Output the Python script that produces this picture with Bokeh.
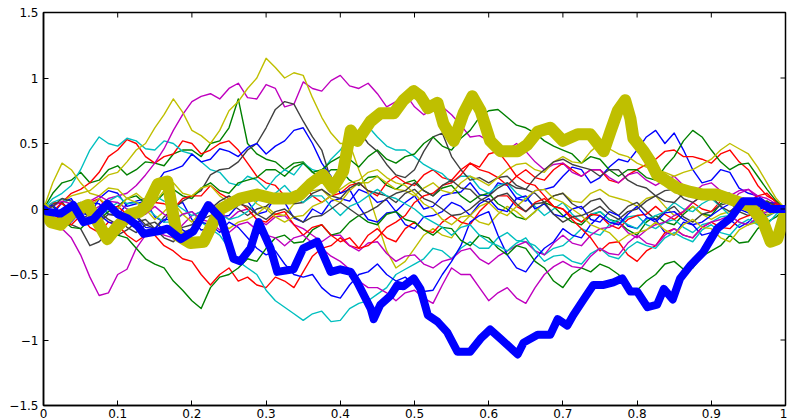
import math
from bokeh.plotting import figure
from bokeh.models import Range1d, FixedTicker
from bokeh.embed import file_html
from bokeh.resources import INLINE

# ---------------- data ----------------
# values at x = 0, 0.025, ..., 1  and at the midpoints x = 0.0125, 0.0375, ...
x_fine = [i / 80 for i in range(81)]

blue_1 = [0, 0.05, -0.03, 0.08, 0.12, 0.04, -0.06, 0.02, -0.08, -0.15,
          -0.05, 0.06, -0.02, 0.05, -0.1, -0.04, 0.08, 0.15, 0.05, -0.02,
          0.1, 0.02, 0.12, 0.2, 0.1, 0.18, 0.06, 0.15, 0.25, 0.3,
          0.24, 0.38, 0.45, 0.6, 0.58, 0.3, 0.22, 0.28, 0.12, 0.05, 0]
blue_1_mid = [-0.04, 0.08, -0.05, 0.14, 0.02, 0.06, -0.1, 0.05, -0.16, -0.06,
              0.03, -0.04, 0.09, -0.07, 0.0, 0.06, 0.06, 0.12, 0.07, 0.05,
              0.0, 0.1, 0.13, 0.11, 0.2, 0.08, 0.14, 0.17, 0.32, 0.2,
              0.32, 0.36, 0.55, 0.5, 0.45, 0.2, 0.3, 0.16, 0.1, -0.03]
blue_2 = [0, -0.08, -0.02, 0.04, -0.05, 0.06, 0.18, 0.3, 0.42, 0.38,
          0.44, 0.47, 0.42, 0.52, 0.62, 0.35, 0.12, 0.02, -0.1, -0.02,
          -0.15, -0.05, 0.05, -0.05, 0.08, -0.02, 0.1, 0.04, -0.06, 0.02,
          -0.1, -0.05, -0.15, -0.08, -0.2, -0.12, -0.18, -0.08, -0.1, 0.04, 0]
blue_2_mid = [-0.02, -0.1, 0.05, -0.04, 0.04, 0.08, 0.28, 0.33, 0.36, 0.46,
              0.4, 0.5, 0.48, 0.6, 0.5, 0.25, 0.15, -0.08, -0.03, -0.12,
              -0.06, -0.02, 0.02, 0.04, 0.0, 0.08, 0.0, -0.04, 0.0, -0.08,
              -0.02, -0.13, -0.07, -0.18, -0.1, -0.2, -0.1, -0.14, -0.02, 0.05]
blue_3 = [0, -0.05, 0.04, -0.04, -0.12, -0.06, -0.15, -0.08, -0.2, -0.12,
          -0.1, -0.22, -0.35, -0.42, -0.52, -0.6, -0.68, -0.5, -0.42, -0.55,
          -0.58, -0.62, -0.4, -0.1, -0.02, -0.35, -0.48, -0.3, -0.15, -0.22,
          -0.05, -0.12, 0.02, -0.1, -0.02, -0.12, -0.05, 0.04, -0.03, 0.05, 0]
blue_3_mid = [0.03, 0.02, -0.02, -0.1, -0.05, -0.14, -0.08, -0.16, -0.1, -0.18,
              -0.14, -0.3, -0.32, -0.5, -0.5, -0.66, -0.58, -0.48, -0.5, -0.52,
              -0.63, -0.5, -0.28, -0.05, -0.2, -0.45, -0.38, -0.25, -0.2, -0.12,
              -0.1, -0.04, -0.06, -0.03, -0.08, -0.1, 0.0, 0.0, 0.02, 0.04]
green_1 = [0, 0.2, 0.28, 0.22, 0.33, 0.3, 0.35, 0.42, 0.45, 0.5,
           0.62, 0.5, 0.38, 0.3, 0.36, 0.24, 0.3, 0.18, 0.25, 0.15,
           0.22, 0.1, 0.18, 0.05, 0.12, 0.0, -0.08, 0.05, -0.05, -0.12,
           -0.02, -0.1, -0.2, -0.05, -0.12, 0.02, -0.05, 0.08, 0.0, 0.06, 0]
green_1_mid = [0.12, 0.22, 0.2, 0.3, 0.26, 0.36, 0.33, 0.45, 0.4, 0.52,
               0.84, 0.42, 0.36, 0.35, 0.28, 0.3, 0.22, 0.24, 0.18, 0.2,
               0.14, 0.16, 0.1, 0.1, 0.04, -0.06, -0.02, 0.02, -0.1, -0.05,
               -0.08, -0.16, -0.1, -0.1, -0.04, -0.04, 0.04, 0.02, 0.04, 0.02]
green_2 = [0, -0.06, 0.03, -0.08, 0.02, 0.1, 0.05, 0.15, 0.08, 0.2,
           0.12, 0.22, 0.3, 0.25, 0.35, 0.3, 0.4, 0.32, 0.45, 0.35,
           0.42, 0.55, 0.45, 0.6, 0.75, 0.7, 0.62, 0.52, 0.45, 0.35,
           0.38, 0.25, 0.3, 0.22, 0.4, 0.6, 0.45, 0.3, 0.35, 0.15, 0]
green_2_mid = [0.02, 0.0, -0.04, -0.02, 0.08, 0.04, 0.12, 0.1, 0.16, 0.14,
               0.2, 0.24, 0.3, 0.32, 0.28, 0.36, 0.38, 0.4, 0.38, 0.4,
               0.5, 0.48, 0.54, 0.7, 0.76, 0.64, 0.58, 0.48, 0.42, 0.4,
               0.3, 0.3, 0.24, 0.32, 0.52, 0.55, 0.36, 0.34, 0.25, 0.06]
green_3 = [0, -0.08, -0.15, -0.1, -0.2, -0.3, -0.42, -0.55, -0.7, -0.6,
           -0.5, -0.38, -0.3, -0.2, -0.25, -0.12, -0.18, -0.05, -0.12, -0.02,
           -0.1, -0.2, -0.15, -0.28, -0.22, -0.35, -0.3, -0.45, -0.6, -0.45,
           -0.42, -0.5, -0.62, -0.5, -0.4, -0.45, -0.32, -0.2, -0.25, -0.1, 0]
green_3_mid = [-0.02, -0.14, -0.08, -0.18, -0.22, -0.38, -0.45, -0.62, -0.76, -0.52,
               -0.45, -0.4, -0.22, -0.26, -0.16, -0.2, -0.1, -0.1, -0.04, -0.08,
               -0.16, -0.14, -0.24, -0.2, -0.3, -0.28, -0.4, -0.55, -0.5, -0.48,
               -0.45, -0.6, -0.55, -0.42, -0.46, -0.36, -0.28, -0.26, -0.15, -0.06]
red_1 = [0, 0.05, 0.15, 0.28, 0.45, 0.5, 0.35, 0.42, 0.5, 0.45,
         0.52, 0.35, 0.2, 0.1, 0.18, 0.05, 0.12, 0.2, 0.1, 0.25,
         0.18, 0.3, 0.22, 0.35, 0.28, 0.18, 0.3, 0.22, 0.35, 0.25,
         0.3, 0.2, 0.3, 0.38, 0.45, 0.4, 0.35, 0.45, 0.3, 0.1, 0]
red_1_mid = [-0.02, 0.12, 0.2, 0.4, 0.53, 0.4, 0.4, 0.52, 0.42, 0.5,
             0.45, 0.25, 0.18, 0.12, 0.1, 0.1, 0.18, 0.14, 0.2, 0.2,
             0.26, 0.24, 0.3, 0.3, 0.24, 0.25, 0.24, 0.3, 0.3, 0.3,
             0.22, 0.26, 0.34, 0.44, 0.4, 0.38, 0.42, 0.36, 0.18, 0.06]
red_2 = [0, -0.1, -0.05, -0.18, -0.12, -0.25, -0.2, -0.32, -0.4, -0.58,
         -0.45, -0.52, -0.6, -0.55, -0.48, -0.3, -0.22, -0.3, -0.15, -0.25,
         -0.1, -0.18, -0.05, -0.12, 0.05, 0.1, -0.02, 0.08, 0.0, -0.1,
         -0.05, -0.15, -0.05, 0.02, -0.08, 0.05, -0.02, 0.1, 0.05, 0.12, 0]
red_2_mid = [-0.03, -0.12, -0.14, -0.1, -0.2, -0.2, -0.28, -0.38, -0.5, -0.5,
             -0.55, -0.58, -0.52, -0.6, -0.36, -0.28, -0.28, -0.2, -0.22, -0.15,
             -0.16, -0.1, -0.1, -0.02, 0.1, 0.02, 0.05, 0.02, -0.06, -0.04,
             -0.12, -0.08, -0.04, -0.04, -0.02, 0.0, 0.06, 0.04, 0.1, 0.05]
red_3 = [0, 0.04, -0.04, 0.08, 0.02, -0.06, 0.05, 0.0, 0.1, 0.18,
         0.08, 0.0, -0.1, -0.02, -0.2, -0.12, -0.25, -0.3, -0.22, -0.1,
         0.05, 0.12, 0.2, 0.35, 0.42, 0.35, 0.2, 0.1, 0.0, -0.15,
         -0.32, -0.25, -0.4, -0.28, -0.15, -0.22, -0.1, -0.15, -0.05, 0.02, 0]
red_3_mid = [0.05, -0.02, 0.05, 0.0, -0.04, 0.02, 0.04, 0.08, 0.1, 0.12,
             0.06, -0.08, -0.04, -0.12, -0.14, -0.2, -0.22, -0.28, -0.14, -0.05,
             0.1, 0.18, 0.26, 0.32, 0.44, 0.25, 0.18, 0.02, -0.08, -0.22,
             -0.26, -0.35, -0.32, -0.18, -0.2, -0.14, -0.14, -0.08, -0.04, 0.04]
cyan_1 = [0, 0.12, 0.3, 0.55, 0.48, 0.52, 0.45, 0.5, 0.42, 0.3,
          0.2, 0.25, 0.15, 0.3, 0.35, 0.28, 0.45, 0.6, 0.55, 0.45,
          0.4, 0.3, 0.2, 0.25, 0.12, 0.2, 0.08, -0.05, 0.05, -0.1,
          -0.02, -0.12, -0.05, -0.15, -0.08, -0.18, -0.1, -0.05, -0.12, -0.05, 0]
cyan_1_mid = [0.08, 0.18, 0.45, 0.5, 0.54, 0.46, 0.52, 0.44, 0.36, 0.28,
              0.18, 0.22, 0.24, 0.26, 0.3, 0.38, 0.55, 0.63, 0.48, 0.45,
              0.34, 0.27, 0.25, 0.16, 0.18, 0.12, 0.02, 0.0, -0.04, -0.04,
              -0.08, -0.06, -0.12, -0.1, -0.14, -0.12, -0.06, -0.1, -0.08, -0.02]
cyan_2 = [0, -0.05, 0.05, -0.02, 0.1, 0.05, -0.05, -0.1, -0.02, -0.15,
          -0.3, -0.45, -0.62, -0.75, -0.85, -0.78, -0.85, -0.72, -0.65, -0.5,
          -0.42, -0.3, -0.38, -0.25, -0.3, -0.18, -0.25, -0.35, -0.28, -0.15,
          -0.2, -0.08, -0.15, -0.05, 0.05, -0.02, 0.08, -0.05, 0.02, -0.06, 0]
cyan_2_mid = [0.03, 0.02, 0.0, 0.06, 0.04, 0.02, -0.1, -0.04, -0.1, -0.2,
              -0.4, -0.5, -0.7, -0.8, -0.8, -0.86, -0.76, -0.7, -0.6, -0.46,
              -0.38, -0.32, -0.3, -0.3, -0.22, -0.24, -0.28, -0.3, -0.22, -0.18,
              -0.12, -0.12, -0.08, -0.02, 0.0, 0.04, 0.02, 0.0, -0.04, -0.02]
cyan_3 = [0, 0.08, 0.02, -0.06, 0.05, -0.02, 0.1, 0.05, -0.05, 0.02,
          -0.08, -0.02, 0.1, 0.18, 0.05, 0.1, -0.05, 0.05, 0.15, 0.08,
          0.0, -0.1, -0.2, -0.12, -0.25, -0.32, -0.22, -0.4, -0.35, -0.42,
          -0.3, -0.38, -0.25, -0.3, -0.18, -0.25, -0.12, -0.2, -0.08, -0.12, 0]
cyan_3_mid = [0.05, 0.03, -0.04, 0.0, 0.0, 0.06, 0.06, 0.0, -0.02, -0.04,
              -0.06, 0.06, 0.12, 0.1, 0.1, 0.02, 0.02, 0.1, 0.1, 0.04,
              -0.06, -0.14, -0.14, -0.2, -0.28, -0.26, -0.32, -0.36, -0.4, -0.34,
              -0.36, -0.3, -0.28, -0.22, -0.22, -0.16, -0.18, -0.12, -0.12, -0.04]
magenta_1 = [0, -0.05, 0.05, 0.02, 0.1, 0.18, 0.35, 0.6, 0.82, 0.88,
             0.92, 0.85, 0.95, 0.78, 0.97, 0.9, 1.02, 0.92, 0.88, 0.82,
             0.78, 0.76, 0.72, 0.55, 0.52, 0.45, 0.44, 0.3, 0.35, 0.25,
             0.3, 0.2, 0.28, 0.18, 0.25, 0.12, 0.2, 0.1, 0.15, 0.05, 0]
magenta_1_mid = [0.02, 0.02, -0.02, 0.08, 0.12, 0.26, 0.46, 0.72, 0.86, 0.84,
                 0.96, 0.84, 0.92, 0.8, 0.92, 0.98, 0.94, 0.96, 0.78, 0.88,
                 0.72, 0.78, 0.64, 0.56, 0.46, 0.5, 0.36, 0.34, 0.28, 0.3,
                 0.24, 0.26, 0.22, 0.22, 0.18, 0.18, 0.14, 0.14, 0.08, 0.04]
magenta_2 = [0, -0.15, -0.35, -0.66, -0.5, -0.3, -0.15, -0.22, -0.05, 0.05,
             -0.08, 0.0, -0.12, -0.05, -0.15, -0.25, -0.2, -0.32, -0.25, -0.4,
             -0.35, -0.45, -0.38, -0.3, -0.42, -0.32, -0.25, -0.35, -0.2, -0.28,
             -0.15, -0.1, -0.22, -0.12, -0.05, 0.05, 0.12, 0.05, 0.15, 0.08, 0]
magenta_2_mid = [-0.08, -0.22, -0.52, -0.64, -0.46, -0.2, -0.2, -0.12, -0.02, -0.02,
                 -0.02, -0.08, -0.06, -0.12, -0.2, -0.2, -0.28, -0.26, -0.34, -0.36,
                 -0.42, -0.4, -0.32, -0.38, -0.36, -0.28, -0.32, -0.26, -0.26, -0.2,
                 -0.14, -0.18, -0.16, -0.1, -0.02, 0.1, 0.08, 0.12, 0.1, 0.04]
magenta_3 = [0, 0.06, 0.0, 0.1, 0.05, -0.05, 0.02, -0.08, -0.02, -0.1,
             -0.18, -0.1, -0.2, -0.28, -0.2, -0.3, -0.4, -0.55, -0.6, -0.7,
             -0.62, -0.72, -0.45, -0.5, -0.7, -0.6, -0.72, -0.5, -0.4, -0.45,
             -0.3, -0.35, -0.2, -0.28, -0.15, -0.22, -0.1, -0.05, -0.12, -0.02, 0]
magenta_3_mid = [0.02, 0.04, 0.06, 0.06, 0.0, -0.04, -0.04, -0.04, -0.08, -0.16,
                 -0.12, -0.16, -0.22, -0.22, -0.26, -0.36, -0.46, -0.6, -0.64, -0.64,
                 -0.68, -0.58, -0.5, -0.6, -0.64, -0.68, -0.6, -0.44, -0.44, -0.36,
                 -0.34, -0.26, -0.26, -0.2, -0.2, -0.14, -0.08, -0.1, -0.06, -0.02]
yellow_1 = [0, 0.05, 0.12, 0.2, 0.28, 0.45, 0.62, 0.84, 0.6, 0.5,
            0.75, 0.92, 1.15, 1.0, 1.02, 0.7, 0.5, 0.3, -0.1, -0.45,
            -0.3, -0.15, -0.22, -0.05, -0.12, 0.02, -0.08, 0.05, 0.12, 0.05,
            0.15, 0.08, 0.02, 0.1, -0.05, 0.02, -0.08, -0.02, 0.05, -0.03, 0]
yellow_1_mid = [0.04, 0.1, 0.14, 0.26, 0.36, 0.5, 0.72, 0.74, 0.56, 0.6,
                0.82, 1.0, 1.08, 1.04, 0.85, 0.58, 0.5, 0.12, -0.32, -0.4,
                -0.2, -0.2, -0.12, -0.1, -0.04, -0.02, -0.02, 0.1, 0.06, 0.12,
                0.1, 0.06, 0.08, 0.02, -0.02, -0.04, -0.04, 0.03, 0.0, -0.02]
yellow_2 = [0, 0.35, 0.2, 0.1, 0.15, 0.05, -0.08, 0.05, -0.1, 0.0,
            -0.15, -0.08, 0.02, -0.05, 0.1, 0.15, 0.05, 0.2, 0.25, 0.15,
            0.1, 0.2, 0.12, 0.25, 0.18, 0.3, 0.35, 0.28, 0.4, 0.35,
            0.5, 0.42, 0.35, 0.3, 0.25, 0.3, 0.38, 0.5, 0.42, 0.2, 0]
yellow_2_mid = [0.2, 0.3, 0.12, 0.16, 0.08, 0.0, -0.02, -0.04, -0.02, -0.1,
                -0.1, -0.04, -0.04, 0.04, 0.14, 0.08, 0.14, 0.2, 0.2, 0.14,
                0.16, 0.14, 0.2, 0.22, 0.24, 0.34, 0.3, 0.36, 0.36, 0.44,
                0.46, 0.4, 0.32, 0.28, 0.28, 0.34, 0.45, 0.46, 0.32, 0.08]
yellow_3 = [0, -0.1, -0.05, 0.08, 0.0, 0.12, 0.05, 0.2, 0.1, 0.18,
            0.05, 0.12, 0.0, -0.1, -0.05, 0.05, 0.15, 0.22, 0.3, 0.2,
            0.12, 0.0, -0.12, -0.05, 0.05, -0.05, 0.08, 0.15, 0.05, -0.05,
            -0.15, -0.25, -0.18, -0.1, -0.2, -0.08, -0.15, -0.25, -0.12, -0.05, 0]
yellow_3_mid = [-0.06, -0.04, 0.02, 0.02, 0.08, 0.06, 0.14, 0.12, 0.16, 0.1,
                0.1, 0.04, -0.06, -0.06, 0.02, 0.1, 0.2, 0.28, 0.24, 0.18,
                0.04, -0.08, -0.06, 0.02, -0.02, 0.02, 0.14, 0.08, 0.0, -0.12,
                -0.18, -0.2, -0.16, -0.16, -0.12, -0.14, -0.22, -0.16, -0.1, -0.02]
gray_1 = [0, -0.05, -0.15, -0.25, -0.2, -0.1, -0.15, 0.0, 0.1, 0.26,
          0.31, 0.45, 0.62, 0.82, 0.67, 0.45, 0.3, 0.6, 0.44, 0.26,
          0.3, 0.55, 0.4, 0.22, 0.2, 0.25, 0.15, 0.05, 0.12, 0.0,
          0.08, -0.05, 0.05, -0.08, 0.02, -0.1, -0.02, 0.05, -0.05, 0.03, 0]
gray_1_mid = [-0.02, -0.12, -0.28, -0.18, -0.16, -0.08, -0.06, 0.06, 0.14, 0.3,
              0.36, 0.5, 0.76, 0.8, 0.55, 0.22, 0.55, 0.5, 0.34, 0.24,
              0.44, 0.58, 0.3, 0.24, 0.24, 0.18, 0.12, 0.1, 0.04, 0.06,
              0.0, 0.02, -0.02, -0.02, -0.06, -0.04, 0.03, -0.02, 0.0, 0.0]
gray_2 = [0, 0.05, -0.08, -0.02, -0.12, -0.05, -0.15, -0.25, -0.15, -0.05,
          0.05, -0.05, 0.02, 0.1, 0.05, 0.15, 0.08, 0.2, 0.12, 0.05,
          0.15, 0.05, -0.05, 0.0, 0.1, 0.2, 0.15, 0.3, 0.38, 0.32,
          0.25, 0.3, 0.18, 0.1, 0.15, 0.05, 0.1, -0.02, 0.05, -0.05, 0]
gray_2_mid = [0.04, -0.02, -0.04, -0.08, -0.06, -0.12, -0.22, -0.18, -0.08, -0.02,
              0.0, 0.0, 0.08, 0.04, 0.12, 0.1, 0.16, 0.14, 0.1, 0.12,
              0.08, 0.0, -0.04, 0.06, 0.16, 0.16, 0.24, 0.36, 0.34, 0.3,
              0.3, 0.22, 0.16, 0.14, 0.08, 0.1, 0.02, 0.04, 0.0, -0.02]
gray_3 = [0, 0.08, 0.0, -0.1, -0.05, -0.18, -0.1, -0.2, -0.12, 0.0,
          0.1, 0.02, -0.08, 0.0, -0.1, -0.05, 0.05, -0.05, 0.02, 0.12,
          0.2, 0.1, 0.22, 0.15, 0.05, 0.12, -0.02, 0.05, -0.1, -0.05,
          0.02, -0.08, 0.0, 0.1, 0.05, 0.15, 0.08, 0.12, 0.0, 0.06, 0]
gray_3_mid = [0.02, 0.06, -0.06, -0.04, -0.14, -0.12, -0.16, -0.14, -0.04, 0.06,
              0.04, -0.04, -0.02, -0.06, -0.06, 0.0, 0.0, -0.02, 0.08, 0.14,
              0.14, 0.18, 0.16, 0.08, 0.1, 0.04, 0.04, -0.04, -0.06, -0.02,
              -0.04, -0.02, 0.06, 0.06, 0.12, 0.1, 0.12, 0.04, 0.04, 0.02]

thick_blue_x = [0, .005, .023, .04, .054, .067, .086, .10, .113, .127,
                .135, .154, .167, .185, .202, .222, .239, .256, .265, .279,
                .29, .306, .315, .337, .35, .369, .377, .387, .40, .414,
                .423, .441, .445, .454, .468, .477, .485, .499, .508, .518,
                .531, .544, .558, .575, .589, .602, .616, .639, .647, .666,
                .683, .693, .706, .714, .728, .741, .755, .768, .78, .791,
                .80, .814, .827, .836, .848, .858, .872, .889, .908, .926,
                .943, .962, .98, 1.0]
thick_blue_y = [0, -.02, -.035, .03, -.10, -.08, .04, -.04, -.07, -.13,
                -.19, -.17, -.15, -.23, -.17, .03, -.07, -.38, -.40, -.30,
                -.10, -.30, -.48, -.46, -.30, -.25, -.35, -.48, -.46, -.48,
                -.56, -.76, -.84, -.73, -.66, -.58, -.59, -.53, -.61, -.81,
                -.86, -.94, -1.09, -1.09, -.99, -.92, -.99, -1.11, -1.02, -.96,
                -.96, -.84, -.89, -.81, -.69, -.58, -.58, -.56, -.53, -.63,
                -.63, -.75, -.73, -.61, -.69, -.53, -.43, -.33, -.15, -.07,
                .06, .06, 0, 0]
thick_yellow_x = [0, .01, .023, .04, .06, .073, .086, .10, .117, .13,
                  .14, .154, .167, .174, .18, .198, .216, .228, .239, .265,
                  .288, .31, .333, .346, .36, .377, .39, .404, .414, .423,
                  .441, .454, .472, .485, .499, .508, .518, .531, .539, .553,
                  .566, .578, .589, .602, .616, .639, .652, .666, .683, .70,
                  .72, .737, .755, .764, .774, .784, .791, .795, .809, .818,
                  .827, .841, .854, .872, .889, .908, .933, .953, .97, .98,
                  .989, 1.0]
thick_yellow_y = [0, -.10, -.12, -.02, .03, -.10, -.23, -.13, -.04, -.02,
                  .03, .19, .21, -.02, -.20, -.26, -.25, -.11, 0, .08,
                  .11, .08, .08, .11, .19, .26, .16, .29, .60, .52,
                  .67, .73, .73, .83, .90, .86, .77, .81, .65, .52,
                  .73, .86, .75, .52, .44, .44, .49, .59, .62, .52,
                  .57, .57, .44, .59, .75, .83, .69, .54, .44, .36,
                  .26, .21, .16, .13, .11, .11, .06, .02, -.10, -.25,
                  -.23, -.02]

x_ticks = [0, 0.1, 0.2, 0.3, 0.4, 0.5, 0.6, 0.7, 0.8, 0.9, 1]
x_tick_labels = ["0", "0.1", "0.2", "0.3", "0.4", "0.5", "0.6", "0.7", "0.8", "0.9", "1"]
y_ticks = [-1.5, -1, -0.5, 0, 0.5, 1, 1.5]
y_tick_labels = ["\u22121.5", "\u22121", "\u22120.5", "0", "0.5", "1", "1.5"]

BLUE, GREEN, RED, CYAN, MAGENTA, YELLOW, GRAY = (
    "#0000FF", "#008000", "#FF0000", "#00BFBF", "#BF00BF", "#BFBF00", "#404040")

thin_series = [
    (blue_1, blue_1_mid, BLUE), (green_1, green_1_mid, GREEN), (red_1, red_1_mid, RED),
    (cyan_1, cyan_1_mid, CYAN), (magenta_1, magenta_1_mid, MAGENTA),
    (yellow_1, yellow_1_mid, YELLOW), (gray_1, gray_1_mid, GRAY),
    (blue_2, blue_2_mid, BLUE), (green_2, green_2_mid, GREEN), (red_2, red_2_mid, RED),
    (cyan_2, cyan_2_mid, CYAN), (magenta_2, magenta_2_mid, MAGENTA),
    (yellow_2, yellow_2_mid, YELLOW), (gray_2, gray_2_mid, GRAY),
    (blue_3, blue_3_mid, BLUE), (green_3, green_3_mid, GREEN), (red_3, red_3_mid, RED),
    (cyan_3, cyan_3_mid, CYAN), (magenta_3, magenta_3_mid, MAGENTA),
    (yellow_3, yellow_3_mid, YELLOW), (gray_3, gray_3_mid, GRAY),
]


def merge(coarse, mid):
    out = []
    for a, m in zip(coarse, mid):
        out += [a, m]
    out.append(coarse[-1])
    return out


# ---------------- figure ----------------
X0, X1, Y0, Y1 = 0, 1, -1.5, 1.5
p = figure(width=787, height=420, x_range=Range1d(X0, X1), y_range=Range1d(Y0, Y1),
           output_backend="svg", toolbar_location=None,
           min_border_left=43, min_border_right=2, min_border_top=12, min_border_bottom=0,
           background_fill_color="white", border_fill_color="white")
p.grid.visible = False
p.outline_line_color = "black"
p.outline_line_width = 1.5

for coarse, mid, col in thin_series:
    p.line(x_fine, merge(coarse, mid), line_color=col, line_width=1.4, line_join="round")

p.line(thick_yellow_x, thick_yellow_y, line_color=YELLOW, line_width=12,
       line_join="round", line_cap="round")
p.line(thick_blue_x, thick_blue_y, line_color=BLUE, line_width=8,
       line_join="round", line_cap="round")

# inward tick marks on the top and right edges of the box
p.scatter(x_ticks, [Y1] * len(x_ticks), marker="dash", size=10, angle=math.pi / 2,
          line_color="black", line_width=1)
p.scatter([X1] * len(y_ticks), y_ticks, marker="dash", size=10,
          line_color="black", line_width=1)

FONT = "DejaVu Sans"


def style_axis(ax, ticks, labels, standoff):
    ax.ticker = FixedTicker(ticks=ticks)
    ax.major_label_overrides = {t: l for t, l in zip(ticks, labels)}
    ax.major_tick_in = 5
    ax.major_tick_out = 0
    ax.minor_tick_line_color = None
    ax.axis_line_color = "black"
    ax.axis_line_width = 1.5
    ax.major_tick_line_color = "black"
    ax.major_label_text_font = FONT
    ax.major_label_text_font_size = "12px"
    ax.major_label_text_color = "black"
    ax.major_label_standoff = standoff


style_axis(p.xaxis[0], x_ticks, x_tick_labels, 3)
style_axis(p.yaxis[0], y_ticks, y_tick_labels, 5)

open("out.html", "w").write(file_html(p, INLINE))
